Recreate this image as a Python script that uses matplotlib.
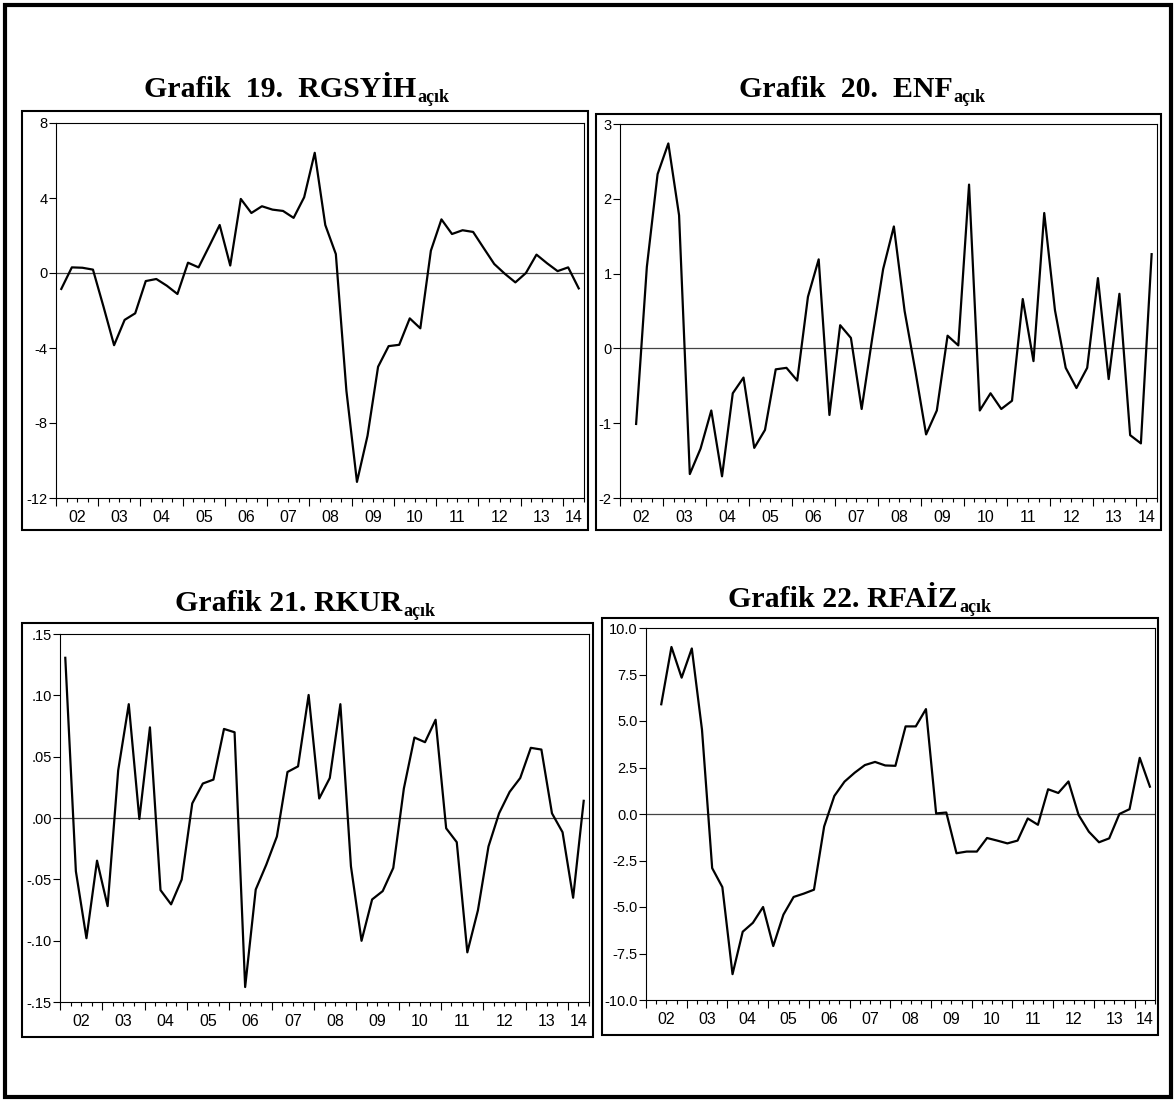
import matplotlib
matplotlib.use("Agg")
import matplotlib.pyplot as plt
from matplotlib.patches import Rectangle
from matplotlib.ticker import FixedLocator

W, H, DPI = 1176, 1102, 100

# ---- data (quarterly output gaps) ----
year_labels = ["02", "03", "04", "05", "06", "07", "08", "09", "10", "11", "12", "13", "14"]
n_quarters = 50  # 2002Q1 .. 2014Q2

# 2002Q1 .. 2014Q2
rgsyih = [-0.85, 0.30, 0.28, 0.18, -1.80, -3.85, -2.50, -2.15, -0.43, -0.32,
          -0.68, -1.12, 0.55, 0.30, 1.42, 2.56, 0.40, 3.95, 3.20, 3.56,
          3.38, 3.31, 2.94, 4.04, 6.41, 2.56, 1.01, -6.28, -11.14, -8.68,
          -5.00, -3.90, -3.83, -2.42, -2.95, 1.19, 2.86, 2.08, 2.28, 2.19,
          1.33, 0.48, -0.04, -0.50, 0.00, 0.98, 0.52, 0.10, 0.30, -0.82]

# 2002Q2 .. 2014Q2
enf = [-1.01, 1.09, 2.33, 2.74, 1.78, -1.68, -1.34, -0.83, -1.71, -0.60,
       -0.39, -1.33, -1.09, -0.28, -0.26, -0.43, 0.69, 1.19, -0.89, 0.31,
       0.14, -0.81, 0.15, 1.06, 1.63, 0.50, -0.30, -1.15, -0.83, 0.17,
       0.04, 2.19, -0.83, -0.60, -0.81, -0.70, 0.66, -0.17, 1.81, 0.51,
       -0.26, -0.53, -0.26, 0.94, -0.41, 0.73, -1.16, -1.27, 1.26]

# 2002Q1 .. 2014Q2
rkur = [0.1306, -0.0434, -0.0980, -0.0348, -0.0718, 0.0388, 0.0928, -0.0008, 0.0739, -0.0588,
        -0.0704, -0.0502, 0.0119, 0.0281, 0.0313, 0.0726, 0.0699, -0.1378, -0.0583, -0.0380,
        -0.0151, 0.0375, 0.0421, 0.1003, 0.0159, 0.0326, 0.0928, -0.0394, -0.1001, -0.0664,
        -0.0596, -0.0407, 0.0240, 0.0656, 0.0618, 0.0801, -0.0084, -0.0197, -0.1095, -0.0753,
        -0.0232, 0.0038, 0.0213, 0.0326, 0.0572, 0.0558, 0.0038, -0.0116, -0.0650, 0.0140]

# 2002Q2 .. 2014Q2
rfaiz = [5.90, 8.98, 7.33, 8.90, 4.53, -2.91, -3.93, -8.61, -6.33, -5.85,
         -5.00, -7.10, -5.41, -4.46, -4.28, -4.07, -0.67, 0.97, 1.74, 2.22,
         2.63, 2.80, 2.61, 2.59, 4.71, 4.71, 5.64, 0.03, 0.08, -2.11,
         -2.02, -2.02, -1.29, -1.43, -1.58, -1.43, -0.24, -0.58, 1.33, 1.13,
         1.75, -0.06, -0.95, -1.52, -1.31, 0.00, 0.26, 3.02, 1.47]

fig = plt.figure(figsize=(W / DPI, H / DPI), dpi=DPI)
fig.patch.set_facecolor("white")


def box(x0, y0, x1, y1):
    """pixel box (top-left origin) -> figure fraction rect"""
    return [x0 / W, 1 - y1 / H, (x1 - x0) / W, (y1 - y0) / H]


def frame(x0, y0, x1, y1, lw):
    fig.patches.append(Rectangle((x0 / W, 1 - y1 / H), (x1 - x0) / W, (y1 - y0) / H,
                                 transform=fig.transFigure, fill=False,
                                 edgecolor="black", linewidth=lw))


def title(cx, base_y, main, sub, size=21.5, sub_size=13):
    r = fig.canvas.get_renderer()
    t = fig.text(0, 1 - base_y / H, main, fontsize=size, fontweight="bold",
                 family="Liberation Serif", va="baseline", ha="left")
    s = fig.text(0, 1 - (base_y + 5) / H, sub, fontsize=sub_size, fontweight="bold",
                 family="Liberation Serif", va="baseline", ha="left")
    w1 = t.get_window_extent(r).width
    w2 = s.get_window_extent(r).width
    x0 = cx - (w1 + w2) / 2
    t.set_x(x0 / W)
    s.set_x((x0 + w1 + 1) / W)


def panel(ax_px, data, start, ylim, yticks, ylabels):
    ax = fig.add_axes(box(*ax_px))
    xs = [start + i + 0.5 for i in range(len(data))]
    ax.axhline(0, color="#444444", lw=0.9, zorder=1)
    ax.plot(xs, data, color="black", lw=1.6, zorder=2)
    ax.set_xlim(0, n_quarters)
    ax.set_ylim(*ylim)
    ax.set_yticks(yticks)
    ax.set_yticklabels(ylabels)
    # year ticks (long) and quarter ticks (short)
    ax.xaxis.set_major_locator(FixedLocator(list(range(0, n_quarters, 4))))
    ax.xaxis.set_minor_locator(FixedLocator(list(range(0, n_quarters + 1))))
    ax.tick_params(axis="x", which="major", length=6, width=0.8, direction="out", labelbottom=False)
    ax.tick_params(axis="x", which="minor", length=3, width=0.8, direction="out")
    ax.tick_params(axis="y", length=5, width=0.8, direction="out", labelsize=10.5, pad=1)
    for lab in ax.get_yticklabels():
        lab.set_family("Liberation Sans")
    # year labels centred in each year
    for k, lab in enumerate(year_labels):
        mid = (4 * k + min(4 * k + 4, n_quarters)) / 2
        ax.text(mid, -0.033, lab, transform=ax.get_xaxis_transform(), ha="center", va="top",
                fontsize=11.5, family="Liberation Sans")
    for sp in ax.spines.values():
        sp.set_linewidth(0.8)
    return ax


# outer border
frame(5, 5, 1171, 1097, 3.0)

# panel frames
frame(22, 111, 588, 530, 1.5)
frame(596, 114, 1161, 530, 1.5)
frame(22, 623, 593, 1037, 1.5)
frame(602, 618, 1158, 1035, 1.5)

panel((56, 123, 584, 498), rgsyih, 0, (-12, 8), [-12, -8, -4, 0, 4, 8],
      ["-12", "-8", "-4", "0", "4", "8"])
panel((620, 124, 1157, 498), enf, 1, (-2, 3), [-2, -1, 0, 1, 2, 3],
      ["-2", "-1", "0", "1", "2", "3"])
panel((60, 634, 589, 1002), rkur, 0, (-0.15, 0.15),
      [-0.15, -0.10, -0.05, 0.0, 0.05, 0.10, 0.15],
      ["-.15", "-.10", "-.05", ".00", ".05", ".10", ".15"])
panel((646, 628, 1155, 1000), rfaiz, 1, (-10, 10),
      [-10, -7.5, -5, -2.5, 0, 2.5, 5, 7.5, 10],
      ["-10.0", "-7.5", "-5.0", "-2.5", "0.0", "2.5", "5.0", "7.5", "10.0"])

title(296, 97, "Grafik  19.  RGSYİH", "açık")
title(862, 97, "Grafik  20.  ENF", "açık")
title(305, 611, "Grafik 21. RKUR", "açık")
title(859, 607, "Grafik 22. RFAİZ", "açık")

fig.savefig("out.png", dpi=DPI)
